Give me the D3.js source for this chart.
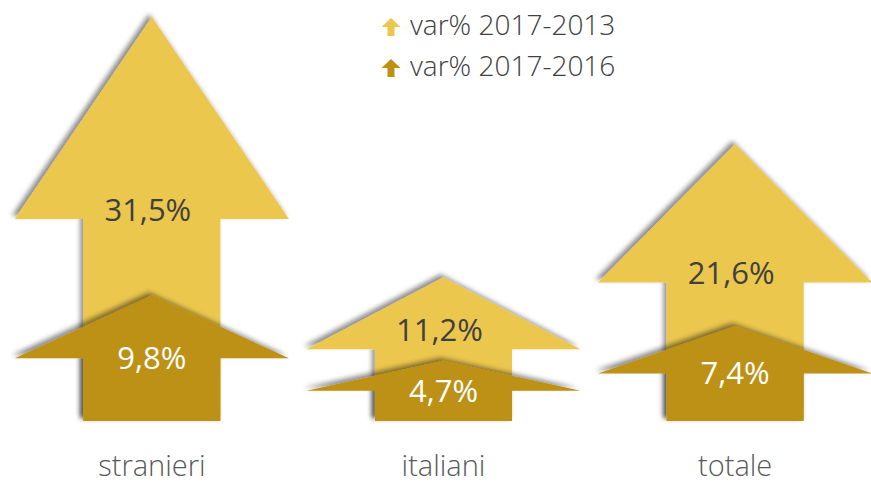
<!DOCTYPE html>
<html>
<head>
<meta charset="utf-8">
<script src="https://cdn.jsdelivr.net/npm/d3@7"></script>
<style>
  body { margin: 0; background: #fff; }
  text { font-family: "Open Sans", "Lato", sans-serif; }
</style>
</head>
<body>
<div id="chart"></div>
<script>
// chart data
var categories = ["stranieri", "italiani", "totale"];
var var2013 = [31.5, 11.2, 21.6];   // var% 2017-2013
var var2016 = [9.8, 4.7, 7.4];      // var% 2017-2016
var seriesNames = ["var% 2017-2013", "var% 2017-2016"];

var width = 871, height = 483;
var colors = ["#ECC74E", "#BD9112"];

var svg = d3.select("#chart").append("svg")
    .attr("width", width)
    .attr("height", height);

// drop shadow (up-left)
var defs = svg.append("defs");
defs.append("filter")
    .attr("id", "shadow")
    .attr("x", "-20%").attr("y", "-20%")
    .attr("width", "140%").attr("height", "140%")
  .append("feDropShadow")
    .attr("dx", -3).attr("dy", -3)
    .attr("stdDeviation", 2.5)
    .attr("flood-color", "#000")
    .attr("flood-opacity", 0.45);

// scales
var x = d3.scaleBand().domain(categories).range([6, 881]).padding(0);
var y = d3.scaleLinear().domain([0, 31.5]).range([421, 17]);

var headW = x.bandwidth() * 0.94;
var shaftW = headW / 2;

function arrowPath(cat, v) {
  var cx = x(cat) + x.bandwidth() / 2;
  var top = y(v), base = y(0), mid = y(v / 2);
  return "M" + (cx - shaftW / 2) + "," + base +
         "L" + (cx - shaftW / 2) + "," + mid +
         "L" + (cx - headW / 2) + "," + mid +
         "L" + cx + "," + top +
         "L" + (cx + headW / 2) + "," + mid +
         "L" + (cx + shaftW / 2) + "," + mid +
         "L" + (cx + shaftW / 2) + "," + base + "Z";
}

var rows = categories.map(function(c, i) {
  return {cat: c, a: var2013[i], b: var2016[i]};
});

// light arrows (2017-2013)
svg.append("g").selectAll("path")
    .data(rows).enter().append("path")
    .attr("d", d => arrowPath(d.cat, d.a))
    .attr("fill", colors[0])
    .attr("filter", "url(#shadow)");

// dark arrows (2017-2016)
svg.append("g").selectAll("path")
    .data(rows).enter().append("path")
    .attr("d", d => arrowPath(d.cat, d.b))
    .attr("fill", colors[1])
    .attr("filter", "url(#shadow)");

function fmt(v) { return d3.format(".1f")(v).replace(".", ",") + "%"; }

// value labels
svg.append("g").selectAll("text")
    .data(rows).enter().append("text")
    .attr("x", d => x(d.cat) + x.bandwidth() / 2 - 4)
    .attr("y", d => Math.min(y(d.a / 2) - 9, y(d.b) - 31))
    .attr("dy", "0.35em")
    .attr("text-anchor", "middle")
    .attr("font-size", 31)
    .attr("fill", "#404040")
    .text(d => fmt(d.a));

svg.append("g").selectAll("text")
    .data(rows).enter().append("text")
    .attr("x", d => x(d.cat) + x.bandwidth() / 2)
    .attr("y", d => y(d.b / 2))
    .attr("dy", "0.35em")
    .attr("text-anchor", "middle")
    .attr("font-size", 31)
    .attr("fill", "#fff")
    .text(d => fmt(d.b));

// category labels
svg.append("g").selectAll("text")
    .data(categories).enter().append("text")
    .attr("x", d => x(d) + x.bandwidth() / 2)
    .attr("y", 476)
    .attr("text-anchor", "middle")
    .attr("font-size", 29)
    .attr("font-weight", 300)
    .attr("fill", "#595959")
    .text(d => d);

// legend
var legend = svg.append("g").selectAll("g")
    .data(seriesNames).enter().append("g")
    .attr("transform", (d, i) => "translate(391," + (27 + i * 41) + ")");

legend.append("path")
    .attr("d", "M-3.5,9L-3.5,0L-9.5,0L0,-9L9.5,0L3.5,0L3.5,9Z")
    .attr("fill", (d, i) => colors[i]);

legend.append("text")
    .attr("x", 19)
    .attr("y", 8)
    .attr("font-size", 28)
    .attr("font-weight", 300)
    .attr("fill", "#404040")
    .text(d => d);
</script>
</body>
</html>
